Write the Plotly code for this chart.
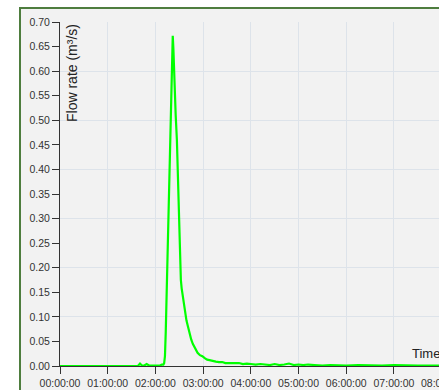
import plotly.graph_objects as go
import pandas as pd

# time since start, minutes
time_min = [0, 30, 60, 90, 98, 100.6, 103, 106, 109, 112, 118, 124, 126, 128, 130, 131,
            132, 133, 134, 135, 136.5, 138, 139.5, 141, 141.8, 142.6, 144, 145.5, 147,
            148.5, 150, 151, 152, 153, 154.5, 156, 157.5, 159, 161, 163, 165, 167, 169,
            171, 173, 176, 179, 182, 185, 188, 192, 196, 200, 204, 208, 212, 216, 220,
            225, 230, 235, 240, 246, 252, 258, 264, 270, 276, 282, 288, 294, 300, 306,
            312, 320, 330, 340, 350, 360, 375, 390, 405, 420, 435, 450, 465, 477]
flow = [0.000, 0.000, 0.000, 0.000, 0.000, 0.005, 0.001, 0.001, 0.004, 0.001, 0.001, 0.002,
        0.001, 0.003, 0.003, 0.006, 0.020, 0.070, 0.140, 0.216, 0.300, 0.410, 0.520, 0.630,
        0.672, 0.645, 0.570, 0.510, 0.460, 0.360, 0.260, 0.200, 0.175, 0.158, 0.140, 0.122,
        0.106, 0.093, 0.080, 0.064, 0.054, 0.045, 0.038, 0.031, 0.027, 0.022, 0.020, 0.016,
        0.013, 0.012, 0.010, 0.009, 0.008, 0.008, 0.006, 0.006, 0.005, 0.005, 0.006, 0.004,
        0.005, 0.004, 0.003, 0.004, 0.003, 0.002, 0.004, 0.002, 0.003, 0.005, 0.002, 0.003,
        0.002, 0.003, 0.002, 0.001, 0.002, 0.001, 0.001, 0.002, 0.001, 0.001, 0.002, 0.001,
        0.001, 0.001, 0.001]
assert len(time_min) == len(flow)

y_ticks = [round(0.05 * i, 2) for i in range(15)]
x_tick_hours = list(range(8))

base = pd.Timestamp("1970-01-01")
t = [base + pd.Timedelta(minutes=m) for m in time_min]

FONT = "Liberation Sans, Arial, sans-serif"
GRID = "#dde3ea"
AX = "#333333"

fig = go.Figure()
fig.add_trace(go.Scatter(x=t, y=flow, mode="lines",
                         line=dict(color="#00ff00", width=2.2), showlegend=False))
fig.add_trace(go.Scatter(x=[], y=[], yaxis="y2", showlegend=False))

W, H = 439, 390
L, R, T, B = 60, 0, 22, 24
pw, ph = W - L - R, H - T - B
px_per_hour = 47.71
xmax_h = pw / px_per_hour

fig.update_layout(
    width=W, height=H,
    margin=dict(l=L, r=R, t=T, b=B),
    paper_bgcolor="white", plot_bgcolor="#f2f2f2",
    font=dict(family=FONT, size=10.5, color=AX),
    xaxis=dict(
        type="date",
        range=[base, base + pd.Timedelta(hours=xmax_h)],
        tickvals=[base + pd.Timedelta(hours=h) for h in x_tick_hours],
        tickformat="%H:%M:%S",
        showgrid=True, gridcolor=GRID, gridwidth=1,
        ticks="outside", ticklen=7, tickcolor=AX, tickwidth=1,
        showline=True, linecolor=AX, linewidth=1, zeroline=False,
        tickfont=dict(size=10.5, color=AX),
    ),
    yaxis=dict(
        range=[0, 0.70],
        tickvals=y_ticks, tickformat=".2f",
        showgrid=False,
        ticks="outside", ticklen=7, tickcolor=AX, tickwidth=1,
        showline=True, linecolor=AX, linewidth=1, zeroline=False,
        tickfont=dict(size=10.5, color=AX),
    ),
    yaxis2=dict(
        overlaying="y", range=[0, 0.70], dtick=0.1,
        showgrid=True, gridcolor=GRID, gridwidth=1,
        showticklabels=False, ticks="", showline=False, zeroline=False,
    ),
)

# outer panel with green border
fig.add_shape(type="rect", xref="paper", yref="paper", layer="below",
              x0=(20 - L) / pw, x1=1.2, y0=-0.3, y1=1 + (T - 8) / ph,
              fillcolor="#f2f2f2", line=dict(color="#4e7d3e", width=2))

# y title inside plot
fig.add_annotation(xref="paper", yref="paper", x=(72 - L) / pw, y=1.0,
                   xanchor="center", yanchor="top", text="Flow rate (m³/s)",
                   textangle=-90, showarrow=False,
                   font=dict(family=FONT, size=14, color="#222222"))
# x title (cut off at right edge, as in the reference)
fig.add_annotation(xref="paper", yref="paper", x=(410 - L) / pw, y=(366 - 353) / ph,
                   xanchor="left", yanchor="middle", text="Time (hh:mm:ss)",
                   showarrow=False, font=dict(family=FONT, size=13, color="#222222"))
# partially visible 08:00:00 tick label
fig.add_annotation(xref="paper", yref="paper", x=8 / xmax_h, y=0, yshift=-17,
                   xanchor="center", yanchor="middle", text="08:00:00",
                   showarrow=False, font=dict(family=FONT, size=10.5, color=AX))

fig.write_html("out.html")
